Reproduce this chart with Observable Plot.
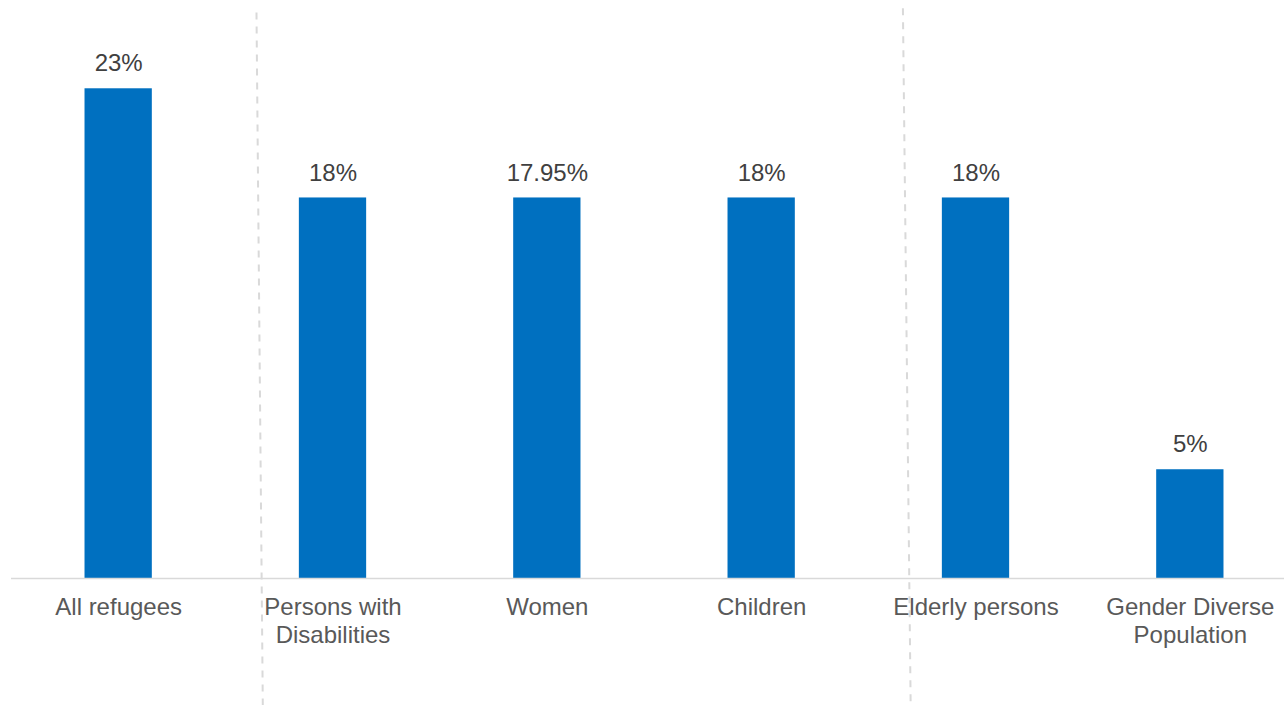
<!DOCTYPE html>
<html>
<head>
<meta charset="utf-8">
<script src="https://cdn.jsdelivr.net/npm/d3@7"></script>
<script src="https://cdn.jsdelivr.net/npm/@observablehq/plot@0.6"></script>
<style>
  html, body { margin: 0; padding: 0; background: #fff; }
  #chart svg { display: block; }
</style>
</head>
<body>
<div id="chart"></div>
<script>
// Categories (tick labels; "\n" = line break)
const categories = [
  "All refugees",
  "Persons with\nDisabilities",
  "Women",
  "Children",
  "Elderly persons",
  "Gender Diverse\nPopulation"
];
// Values (%)
const values = [23.1, 17.95, 17.95, 17.95, 17.95, 5.13];
// Data labels as printed on the chart
const valueLabels = ["23%", "18%", "17.95%", "18%", "18%", "5%"];
// Dashed separator annotations (category-index x, percent y)
const separators = [
  {x1: 0.643, y1: 26.7, x2: 0.6725, y2: -6.0},
  {x1: 3.659, y1: 26.9, x2: 3.695, y2: -5.8}
];

const data = categories.map((c, i) => ({i, category: c, value: values[i], label: valueLabels[i]}));
const halfBar = 0.157;
const font = "Arial, 'Liberation Sans', sans-serif";

const chart = Plot.plot({
  width: 1284,
  height: 705,
  marginTop: 48,
  marginBottom: 127,
  marginLeft: 11,
  marginRight: 0,
  style: {fontFamily: font, background: "#fff"},
  x: {domain: [-0.5, categories.length - 0.5], range: [11, 1297], axis: null},
  y: {domain: [0, 25], axis: null},
  marks: [
    Plot.link(separators, {
      x1: "x1", y1: "y1", x2: "x2", y2: "y2",
      stroke: "#d9d9d9", strokeWidth: 2, strokeDasharray: "7,7"
    }),
    Plot.rectY(data, {
      x1: d => d.i - halfBar, x2: d => d.i + halfBar,
      y1: 0, y2: "value", fill: "#0070c0"
    }),
    Plot.ruleY([0], {stroke: "#d9d9d9", strokeWidth: 1.5}),
    Plot.text(data, {
      x: "i", y: "value", text: "label",
      dy: -25, fontSize: 24, fill: "#404040"
    }),
    Plot.axisX(d3.range(categories.length), {
      tickSize: 0, tickPadding: 17,
      tickFormat: i => categories[i],
      fontSize: 24, fill: "#595959", lineHeight: 1.15,
      label: null
    })
  ]
});
document.getElementById("chart").appendChild(chart);
</script>
</body>
</html>
